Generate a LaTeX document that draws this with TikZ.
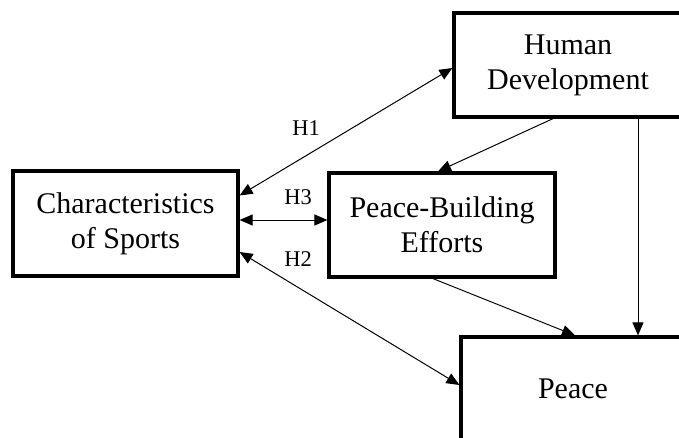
\documentclass[tikz,border=0pt]{standalone}
\usepackage{fontspec}
\setmainfont{Liberation Serif}
\usetikzlibrary{arrows.meta}
\begin{document}
\begin{tikzpicture}[x=1pt,y=-1pt,
  box/.style={draw=black,line width=3.2pt,rectangle,inner sep=0pt,align=center,
    font=\fontsize{30}{35}\selectfont},
  conn/.style={draw=black,line width=1pt,-{Triangle[length=13pt,width=11pt]}},
  biconn/.style={draw=black,line width=1pt,{Triangle[length=13pt,width=11pt]}-{Triangle[length=13pt,width=11pt]}},
  hlab/.style={font=\fontsize{22.5}{26}\selectfont,inner sep=0pt}]
\useasboundingbox (0,0) rectangle (679,437);
\clip (0,0) rectangle (679,437);
\node[box,minimum width=225pt,minimum height=105pt] (cs) at (125.5,223.5) {Characteristics\\of Sports};
\node[box,minimum width=226pt,minimum height=104pt] (pb) at (442,225) {Peace-Building\\Efforts};
\node[box,minimum width=228pt,minimum height=104pt] (hd) at (568,65) {Human\\Development};
\node[box,minimum width=224pt,minimum height=104pt] (pe) at (573,389) {Peace};
\draw[biconn] ([yshift=28pt]cs.east) -- ([yshift=-3pt]hd.west);
\node[hlab] (h1) at (306,128) {H1};
\draw[biconn] ([yshift=3.5pt]cs.east) -- ([yshift=5pt]pb.west);
\node[hlab] (h3) at (298,197) {H3};
\draw[biconn] ([yshift=-28.5pt]cs.east) -- ([yshift=4pt]pe.west);
\node[hlab] (h2) at (298,259) {H2};
\draw[conn] ([xshift=-15pt]hd.south) -- ([xshift=-4pt]pb.north);
\coordinate (hdx) at ([xshift=70pt]hd.south);
\draw[conn] (hdx) -- (hdx |- pe.north);
\draw[conn] ([xshift=-9pt]pb.south) -- ([xshift=2pt]pe.north);
\end{tikzpicture}
\end{document}
